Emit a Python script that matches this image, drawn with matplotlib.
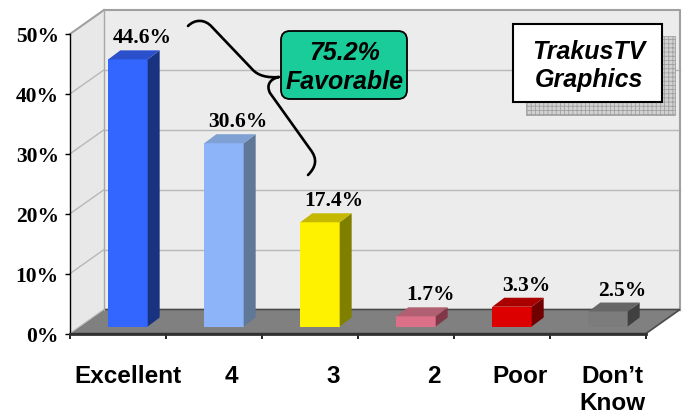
import matplotlib
matplotlib.use("Agg")
import matplotlib.pyplot as plt
from matplotlib.patches import Polygon, Rectangle, FancyBboxPatch, PathPatch
from matplotlib.path import Path

# ---- data -------------------------------------------------------------
categories = ["Excellent", "4", "3", "2", "Poor", "Don\u2019t\nKnow"]
values = [44.6, 30.6, 17.4, 1.7, 3.3, 2.5]
y_ticks = [0, 10, 20, 30, 40, 50]

# ---- styling ----------------------------------------------------------
front_colors = ["#3366FF", "#8DB4F8", "#FFF200", "#DB7088", "#DD0000", "#7C7C7C"]
side_colors = ["#1A3380", "#5F7898", "#808000", "#803848", "#700000", "#404040"]
top_colors = ["#2A50CC", "#7FA0D2", "#C4B800", "#B06070", "#AA0000", "#666666"]
label_x_px = [128, 231, 333, 434, 520, 612]

plt.rcParams["hatch.linewidth"] = 0.6
plt.rcParams["hatch.color"] = "#8A8A8A"

W, H = 684, 414
fig = plt.figure(figsize=(W / 100, H / 100), dpi=100)
fig.patch.set_facecolor("white")

# front plane of the 3-D box, in pixels
L, R, T, B = 70, 646, 35, 334.5
ax = fig.add_axes([L / W, 1 - B / H, (R - L) / W, (B - T) / H])
ax.set_xlim(0, len(categories))
ax.set_ylim(0, 50)
ax.patch.set_visible(False)
px_x = (R - L) / len(categories)   # pixels per category
px_y = (B - T) / 50                # pixels per percentage point

# depth offsets (in data units)
WDX, WDY = 34 / px_x, 24 / px_y       # walls / floor
SDX, SDY = 10 / px_x, 7 / px_y        # bar front face shift
BDX, BDY = 12 / px_x, 9 / px_y        # bar depth
BAR_W = 0.41

wall_kw = dict(clip_on=False, linewidth=0)
grid_c = "#B8B8B8"
ncat = len(categories)

# floor
ax.add_patch(Polygon([(0, 0), (ncat, 0), (ncat + WDX, WDY), (WDX, WDY)],
                     closed=True, facecolor="#808080", edgecolor="#4A4A4A",
                     linewidth=1.2, zorder=1, clip_on=False))
# back wall
ax.add_patch(Rectangle((WDX, WDY), ncat, 50, facecolor="#ECECEC",
                       zorder=0.5, **wall_kw))
# left side wall
ax.add_patch(Polygon([(0, 0), (WDX, WDY), (WDX, 50 + WDY), (0, 50)],
                     closed=True, facecolor="#E8E8E8", zorder=1.2, **wall_kw))

# gridlines on back and side walls
for t in y_ticks:
    if t < 50:
        ax.plot([WDX, ncat + WDX], [t + WDY, t + WDY], color=grid_c, lw=1,
                zorder=0.8, clip_on=False)
    ax.plot([0, WDX], [t, t + WDY], color=grid_c if t < 50 else "#A0A0A0",
            lw=1 if t < 50 else 1.5, zorder=1.3, clip_on=False)
# wall frame
ax.plot([WDX, ncat + WDX, ncat + WDX], [50 + WDY, 50 + WDY, WDY],
        color="#A0A0A0", lw=1.5, zorder=0.9, clip_on=False)
ax.plot([WDX, WDX], [WDY, 50 + WDY], color="#A8A8A8", lw=1, zorder=1.3,
        clip_on=False)

# bars
for i, (v, fc, sc, tc) in enumerate(zip(values, front_colors, side_colors, top_colors)):
    x0 = i + 0.5 - BAR_W / 2 + SDX
    x1 = x0 + BAR_W
    y0 = SDY
    y1 = SDY + v
    z = 3 + i * 0.1
    ax.add_patch(Polygon([(x0, y0), (x1, y0), (x1, y1), (x0, y1)],
                         facecolor=fc, lw=0, zorder=z, clip_on=False))
    ax.add_patch(Polygon([(x1, y0), (x1 + BDX, y0 + BDY), (x1 + BDX, y1 + BDY), (x1, y1)],
                         facecolor=sc, lw=0, zorder=z, clip_on=False))
    ax.add_patch(Polygon([(x0, y1), (x1, y1), (x1 + BDX, y1 + BDY), (x0 + BDX, y1 + BDY)],
                         facecolor=tc, lw=0, zorder=z, clip_on=False))
    ax.text((x0 + x1) / 2 + BDX / 2 + 8 / px_x, y1 + BDY + 8 / px_y, f"{v:.1f}%",
            ha="center", va="baseline", family="Liberation Serif",
            fontweight="bold", fontsize=15.5, zorder=6, clip_on=False)

# axes, ticks
for s in ("top", "right"):
    ax.spines[s].set_visible(False)
ax.spines["left"].set_color("black")
ax.spines["left"].set_linewidth(1)
ax.spines["bottom"].set_color("#303030")
ax.spines["bottom"].set_linewidth(2)
ax.set_yticks(y_ticks)
ax.set_yticklabels([f"{t}%" for t in y_ticks], family="Liberation Serif",
                   fontweight="bold", fontsize=15.5)
ax.set_xticks(range(ncat + 1))
ax.set_xticklabels([])
ax.tick_params(axis="y", direction="out", length=3.6, width=1, pad=4.5)
ax.tick_params(axis="x", direction="out", length=3.6, width=1.2)

# overlay in pixel coordinates for callouts and category names
ov = fig.add_axes([0, 0, 1, 1], zorder=5)
ov.set_xlim(0, W)
ov.set_ylim(H, 0)
ov.axis("off")
ov.patch.set_visible(False)

for name, lx in zip(categories, label_x_px):
    ov.text(lx, 365, name, ha="center", va="top", family="Liberation Sans",
            fontweight="bold", fontsize=17.5, linespacing=1.22)

# brace grouping the favorable ratings
brace = Path(
    [(188, 27), (195, 20), (205, 20), (212, 28),
     (252, 70),
     (258, 77), (268, 79), (279, 78),
     (270, 80), (266, 86), (270, 94),
     (310, 150),
     (318, 160), (316, 168), (308, 176)],
    [Path.MOVETO, Path.CURVE4, Path.CURVE4, Path.CURVE4,
     Path.LINETO,
     Path.CURVE4, Path.CURVE4, Path.CURVE4,
     Path.CURVE4, Path.CURVE4, Path.CURVE4,
     Path.LINETO,
     Path.CURVE4, Path.CURVE4, Path.CURVE4])
ov.add_patch(PathPatch(brace, facecolor="none", edgecolor="black", lw=1.9,
                       capstyle="round", joinstyle="round"))

# favorable callout
ov.add_patch(FancyBboxPatch((281, 32), 126, 68,
                            boxstyle="round,pad=0,rounding_size=9",
                            facecolor="#19CC99", edgecolor="black", lw=1.3))
ov.text(345, 53, "75.2%", ha="center", va="center", family="Liberation Sans",
        fontweight="bold", fontstyle="italic", fontsize=18)
ov.text(345, 82, "Favorable", ha="center", va="center", family="Liberation Sans",
        fontweight="bold", fontstyle="italic", fontsize=18)

# badge with grid shadow
ov.add_patch(Rectangle((526, 37), 149, 79, facecolor="#D2D2D2",
                       edgecolor="#A0A0A0", hatch="++++", lw=0.6))
ov.add_patch(Rectangle((513, 25), 149, 78, facecolor="white",
                       edgecolor="black", lw=1.5))
ov.text(589, 52, "TrakusTV", ha="center", va="center", family="Liberation Sans",
        fontweight="bold", fontstyle="italic", fontsize=18)
ov.text(589, 80, "Graphics", ha="center", va="center", family="Liberation Sans",
        fontweight="bold", fontstyle="italic", fontsize=18)

fig.savefig("out.png", dpi=100, facecolor="white")
